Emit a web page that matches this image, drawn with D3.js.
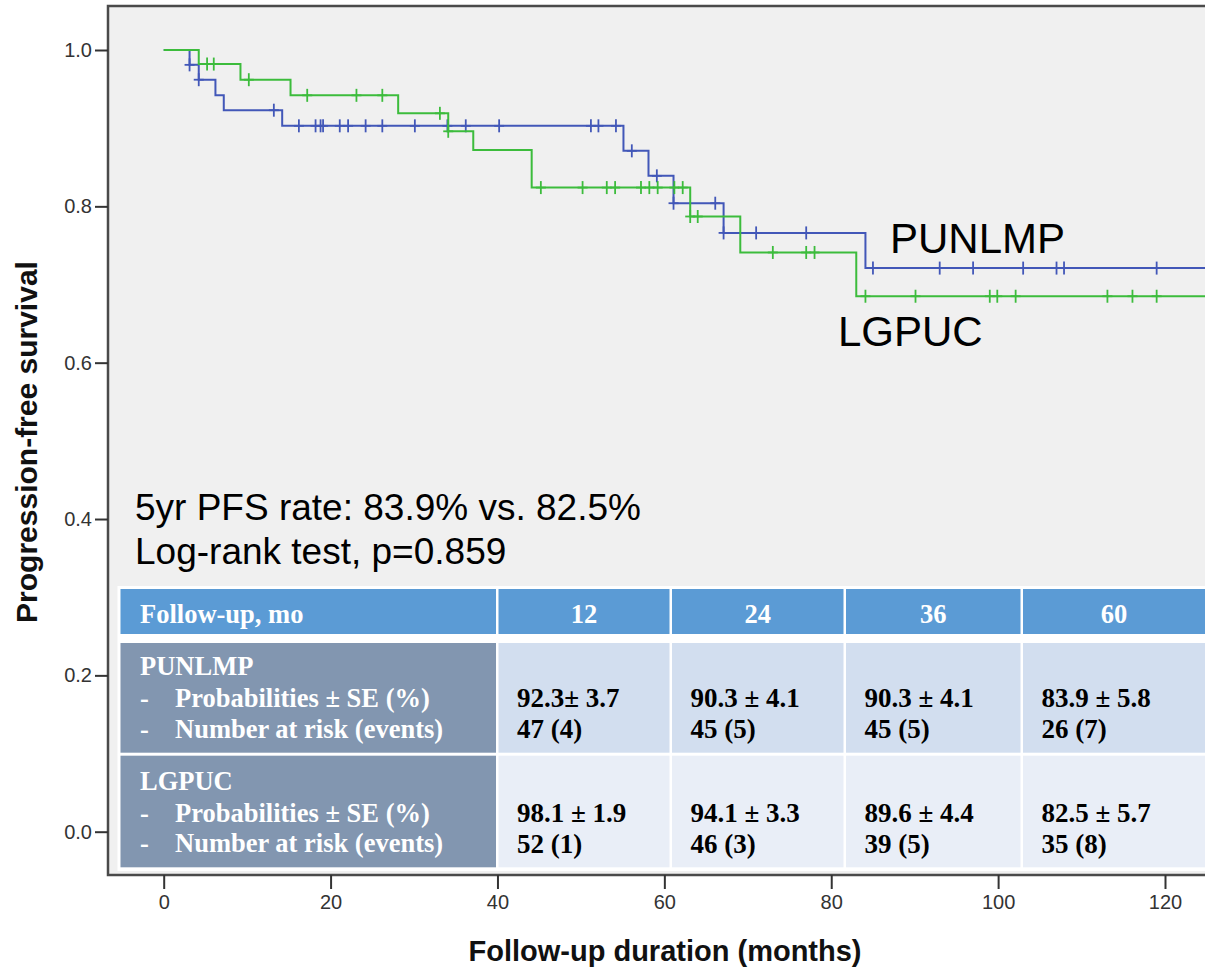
<!DOCTYPE html>
<html><head><meta charset="utf-8">
<script src="https://cdn.jsdelivr.net/npm/d3@7"></script>
<style>body{margin:0;background:#fff}</style>
</head><body><svg id="chart" width="1205" height="970"></svg>
<script>
// ---------- data ----------
const xTicks = [0, 20, 40, 60, 80, 100, 120];
const yTicks = [0, 0.2, 0.4, 0.6, 0.8, 1.0];

const punlmpTimes = [0, 3.1, 4.2, 6.2, 7.2, 14.2, 55.1, 58.1, 61.1, 67.1, 84.1];
const punlmpSurv  = [1.0, 0.981, 0.962, 0.942, 0.923, 0.903, 0.871, 0.839, 0.804, 0.766, 0.721];
const punlmpCensor = [3.1, 4.2, 13.2, 16.2, 18.2, 18.8, 19.1, 21.1, 22.1, 24.2, 26.2, 30.1, 34.0,
  36.2, 40.2, 51.2, 52.1, 54.2, 56.1, 59.1, 61.1, 66.1, 67.1, 71.0, 77.0, 85.0, 93.0, 97.0,
  103.0, 107.0, 107.9, 119.0];

const lgpucTimes = [0, 4.2, 9.2, 15.2, 28.1, 34.1, 37.1, 44.1, 63.1, 69.1, 83.0];
const lgpucSurv  = [1.0, 0.982, 0.962, 0.942, 0.919, 0.896, 0.872, 0.824, 0.787, 0.741, 0.685];
const lgpucCensor = [5.2, 6.0, 10.2, 17.2, 23.1, 26.2, 33.1, 34.1, 45.2, 50.2, 53.1, 54.1, 57.2,
  58.2, 59.2, 61.2, 62.2, 63.1, 64.0, 73.0, 77.0, 78.0, 84.1, 90.1, 99.0, 99.9, 102.1, 113.1,
  116.1, 119.0];

const groupNames = ["PUNLMP", "LGPUC"];
const statLines = ["5yr PFS rate: 83.9% vs. 82.5%", "Log-rank test, p=0.859"];

const tableHeader = ["Follow-up, mo", "12", "24", "36", "60"];
const rowItems = ["Probabilities \u00B1 SE (%)", "Number at risk (events)"];
const punlmpProb = ["92.3\u00B1 3.7", "90.3 \u00B1 4.1", "90.3 \u00B1 4.1", "83.9 \u00B1 5.8"];
const punlmpRisk = ["47 (4)", "45 (5)", "45 (5)", "26 (7)"];
const lgpucProb  = ["98.1 \u00B1 1.9", "94.1 \u00B1 3.3", "89.6 \u00B1 4.4", "82.5 \u00B1 5.7"];
const lgpucRisk  = ["52 (1)", "46 (3)", "39 (5)", "35 (8)"];

// ---------- layout ----------
const svg = d3.select("#chart");
const W = 1205, H = 970;
const frame = {x: 108, y: 6, w: 1110, h: 869};
const x = d3.scaleLinear().domain([0, 120]).range([163.7, 1165]);
const y = d3.scaleLinear().domain([0, 1]).range([831.7, 50]);
const xEnd = 125.6;

const sans = "'Liberation Sans', Arial, Helvetica, sans-serif";
const serif = "'Liberation Serif', 'Times New Roman', serif";

svg.append("rect").attr("width", W).attr("height", H).attr("fill", "#fff");

svg.append("defs").append("clipPath").attr("id", "clip")
  .append("rect").attr("x", frame.x).attr("y", frame.y).attr("width", frame.w).attr("height", frame.h);

svg.append("rect").attr("x", frame.x).attr("y", frame.y).attr("width", frame.w).attr("height", frame.h)
  .attr("fill", "#f0f0f0");

// ---------- curves ----------
const line = d3.line().curve(d3.curveStepAfter).x(d => x(d[0])).y(d => y(d[1]));
const plot = svg.append("g").attr("clip-path", "url(#clip)");

function drawCurve(times, surv, censor, color) {
  const pts = times.map((t, i) => [t, surv[i]]);
  pts.push([xEnd, surv[surv.length - 1]]);
  plot.append("path").attr("d", line(pts)).attr("fill", "none")
    .attr("stroke", color).attr("stroke-width", 2);
  const g = plot.append("g").attr("stroke", color).attr("stroke-width", 1.8);
  censor.forEach(t => {
    const s = surv[d3.bisectRight(times, t) - 1];
    g.append("line").attr("x1", x(t)).attr("x2", x(t)).attr("y1", y(s) - 6.5).attr("y2", y(s) + 6.5);
    g.append("line").attr("x1", x(t) - 5).attr("x2", x(t) + 5).attr("y1", y(s)).attr("y2", y(s));
  });
}
drawCurve(punlmpTimes, punlmpSurv, punlmpCensor, "#4257b8");
drawCurve(lgpucTimes, lgpucSurv, lgpucCensor, "#3cbc3c");

// frame border
svg.append("rect").attr("x", frame.x).attr("y", frame.y).attr("width", frame.w).attr("height", frame.h)
  .attr("fill", "none").attr("stroke", "#4a4a4a").attr("stroke-width", 2.5);

// ---------- axes ----------
const yAxis = svg.append("g").attr("transform", `translate(${frame.x},0)`)
  .call(d3.axisLeft(y).tickValues(yTicks).tickFormat(d3.format(".1f")).tickSize(13).tickPadding(3));
yAxis.select(".domain").remove();
yAxis.selectAll(".tick line").attr("stroke", "#333").attr("stroke-width", 2);
yAxis.selectAll(".tick text").attr("font-family", sans).attr("font-size", 20).attr("fill", "#333");

const xAxis = svg.append("g").attr("transform", `translate(0,${frame.y + frame.h})`)
  .call(d3.axisBottom(x).tickValues(xTicks).tickFormat(d3.format("d")).tickSize(14).tickPadding(6));
xAxis.select(".domain").remove();
xAxis.selectAll(".tick line").attr("stroke", "#333").attr("stroke-width", 2);
xAxis.selectAll(".tick text").attr("font-family", sans).attr("font-size", 20).attr("fill", "#333");

svg.append("text").attr("x", 665).attr("y", 961).attr("text-anchor", "middle")
  .attr("font-family", sans).attr("font-weight", "bold").attr("font-size", 29).attr("fill", "#111")
  .text("Follow-up duration (months)");
svg.append("text").attr("transform", "translate(37,442) rotate(-90)").attr("text-anchor", "middle")
  .attr("font-family", sans).attr("font-weight", "bold").attr("font-size", 30).attr("fill", "#111")
  .text("Progression-free survival");

// ---------- annotations ----------
svg.append("text").attr("x", 890).attr("y", 253).attr("font-family", sans).attr("font-size", 42)
  .attr("fill", "#000").text(groupNames[0]);
svg.append("text").attr("x", 838).attr("y", 346).attr("font-family", sans).attr("font-size", 42)
  .attr("fill", "#000").text(groupNames[1]);
statLines.forEach((t, i) => {
  svg.append("text").attr("x", 135).attr("y", 520 + i * 44).attr("font-family", sans)
    .attr("font-size", 37).attr("fill", "#000").text(t);
});

// ---------- table ----------
const cols = [[120.5, 496], [498.5, 669.5], [672, 843.5], [846, 1020.5], [1023, 1215]];
const rows = [[589, 634], [643, 752.7], [755.7, 867.3]];
const tbl = svg.append("g");
tbl.append("rect").attr("x", 117.5).attr("y", 586).attr("width", 1100).attr("height", 285).attr("fill", "#fff");

// header
cols.forEach((c, i) => {
  tbl.append("rect").attr("x", c[0]).attr("y", rows[0][0]).attr("width", c[1] - c[0])
    .attr("height", rows[0][1] - rows[0][0]).attr("fill", "#5b9bd5");
  tbl.append("text").attr("x", i === 0 ? 140 : (c[0] + c[1]) / 2 - (i === 4 ? 5 : 0)).attr("y", 623)
    .attr("text-anchor", i === 0 ? "start" : "middle")
    .attr("font-family", serif).attr("font-weight", "bold").attr("font-size", 26.5).attr("fill", "#fff")
    .text(tableHeader[i]);
});

const bodyRows = [
  {name: groupNames[0], prob: punlmpProb, risk: punlmpRisk, fill: "#d2deef", base: 675},
  {name: groupNames[1], prob: lgpucProb, risk: lgpucRisk, fill: "#e9eef7", base: 789.5}
];
bodyRows.forEach((r, ri) => {
  const rr = rows[ri + 1];
  cols.forEach((c, ci) => {
    tbl.append("rect").attr("x", c[0]).attr("y", rr[0]).attr("width", c[1] - c[0])
      .attr("height", rr[1] - rr[0]).attr("fill", ci === 0 ? "#8296b0" : r.fill);
  });
  const tx = (xx, yy, t, col, fs) => tbl.append("text").attr("x", xx).attr("y", yy)
    .attr("font-family", serif).attr("font-weight", "bold").attr("font-size", fs)
    .attr("fill", col).text(t);
  tx(140, r.base, r.name, "#fff", 26.5);
  rowItems.forEach((it, k) => {
    const yy = r.base + 32 + k * 30.5;
    tx(140, yy, "-", "#fff", 26.5);
    tx(175, yy, it, "#fff", 26.5);
  });
  for (let k = 0; k < 4; k++) {
    const c = cols[k + 1];
    tx(c[0] + 18.5, r.base + 32, r.prob[k], "#000", 27);
    tx(c[0] + 18.5, r.base + 63, r.risk[k], "#000", 27);
  }
});
</script></body></html>
